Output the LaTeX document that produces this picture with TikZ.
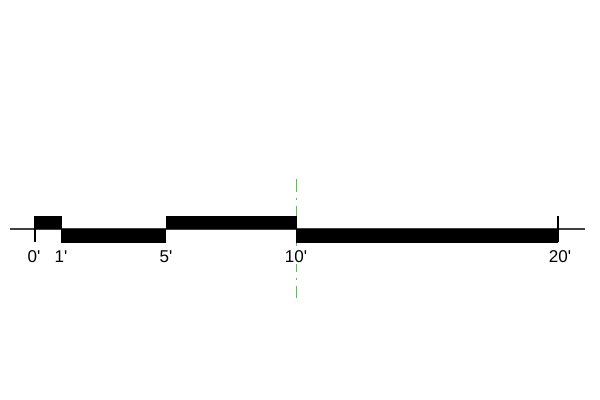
\documentclass[tikz,border=0pt]{standalone}
\usepackage{fontspec}
\setmainfont{Liberation Sans}
\begin{document}
\begin{tikzpicture}[x=0.75pt,y=-0.75pt,
  bar/.style={fill=black,draw=none},
  axisline/.style={draw=black!75,line width=0.9pt},
  tickline/.style={draw=black,line width=1.5pt},
  lbl/.style={font=\fontsize{12.8}{14}\selectfont,inner sep=0.5pt},
  center/.style={draw={rgb,255:red,110;green,175;blue,110},line width=0.75pt,dash pattern=on 10pt off 4pt on 2pt off 4pt}]
\useasboundingbox (0,0) rectangle (600,400);
% axis
\coordinate (aL) at (10,229);
\coordinate (aR) at (585,229);
\draw[axisline] (aL) -- (aR);
% centre line
\coordinate (cA) at (296.5,179);
\coordinate (cB) at (296.5,298);
\draw[center] (cA) -- (cB);
% bars
\fill[bar] (35,216) rectangle (62,229);
\fill[bar] (61,229) rectangle (166,242.5);
\fill[bar] (165.5,216) rectangle (297,229);
\fill[bar] (296,229) rectangle (558,242.5);
% ticks
\coordinate (t0a) at (35,216); \coordinate (t0b) at (35,242);
\draw[tickline] (t0a) -- (t0b);
\coordinate (t20a) at (558,216); \coordinate (t20b) at (558,242);
\draw[tickline] (t20a) -- (t20b);
% labels
\node[lbl] (l0) at (34,257) {0\textquotesingle};
\node[lbl] (l1) at (61,257) {1\textquotesingle};
\node[lbl] (l5) at (166,257) {5\textquotesingle};
\node[lbl,fill=white] (l10) at (296,257) {10\textquotesingle};
\node[lbl] (l20) at (560,257) {20\textquotesingle};
\end{tikzpicture}
\end{document}
